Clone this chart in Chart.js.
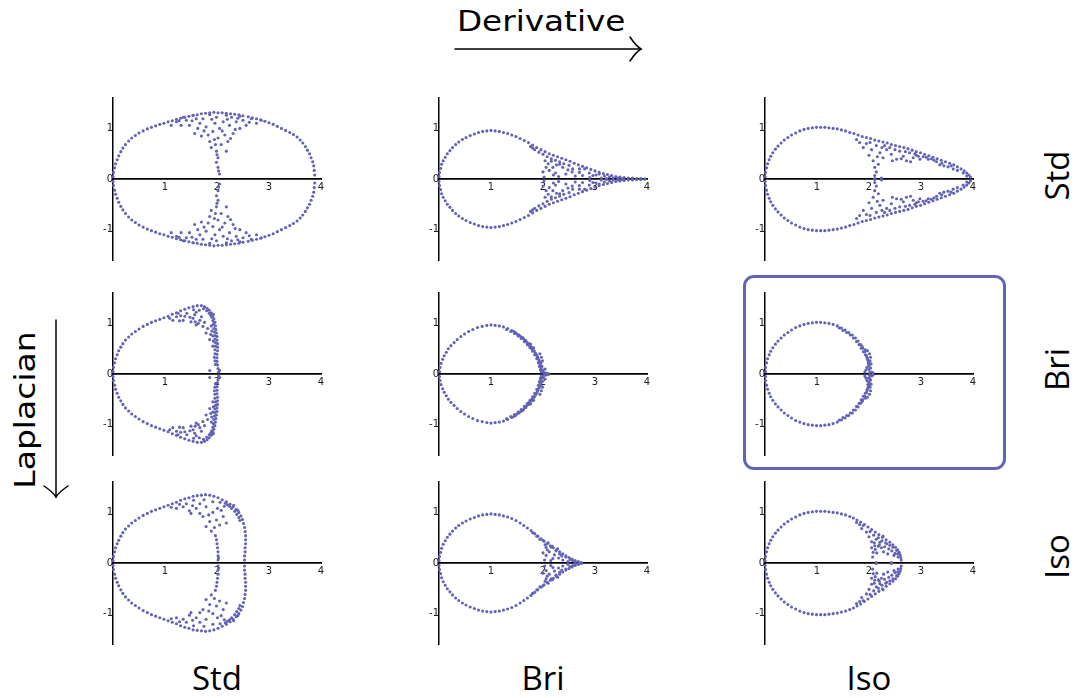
<!DOCTYPE html>
<html>
<head>
<meta charset="utf-8">
<title>Spectra of Laplacian / derivative discretisations</title>
<script src="https://cdn.jsdelivr.net/npm/chart.js@4.4.1/dist/chart.umd.min.js"></script>
<style>
  html, body { margin: 0; padding: 0; background: #fff; }
  #fig { position: relative; width: 1079px; height: 698px; overflow: hidden; background: #fff; }
  .panel { position: absolute; width: 232px; height: 174px; }
  .lbl { position: absolute; white-space: nowrap; line-height: 1; color: #000; transform-origin: 50% 50%; }
  .head { font-family: "DejaVu Sans", sans-serif; font-size: 28px; }
  .scheme { font-family: "Open Sans", sans-serif; font-size: 33px; }
  #frame { position: absolute; box-sizing: border-box; left: 743px; top: 275px; width: 263px; height: 195px;
           border: 3px solid #6464b6; border-radius: 11px; }
  svg { position: absolute; left: 0; top: 0; }
</style>
</head>
<body>
<div id="fig">
  <svg width="1079" height="698">
    <g fill="none" stroke="#000" stroke-width="1.5" stroke-linecap="round">
      <path d="M455 49 H641"/>
      <path d="M630 37 Q636 46 641 49 Q636 52 630 61"/>
      <path d="M56 320 V497"/>
      <path d="M44 486 Q53 492 56 497 Q59 492 68 486"/>
    </g>
  </svg>
  <div id="frame"></div>
</div>
<script>
// Eigenvalues (re, im) of each discretised operator; rows = Laplacian scheme,
// columns = derivative scheme. The operators are real, so their spectra are
// closed under conjugation: only the Im >= 0 half is listed here.
const schemes = ['Std', 'Bri', 'Iso'];
const xTicks = [1, 2, 3, 4];
const yTicks = [-1, 0, 1];

const specStdStd = [
  [0.00,0.05],[0.01,0.13],[0.03,0.22],[0.05,0.30],[0.08,0.38],[0.11,0.46],[0.15,0.54],[0.19,0.61],[0.24,0.68],[0.30,0.75],
  [0.36,0.81],[0.43,0.86],[0.50,0.91],[0.58,0.95],[0.66,0.99],[0.74,1.02],[0.82,1.05],[0.90,1.08],[0.98,1.10],[1.06,1.13],
  [1.14,1.15],[1.22,1.18],[1.30,1.20],[1.38,1.22],[1.46,1.24],[1.54,1.26],[1.62,1.27],[1.70,1.29],[1.78,1.30],[1.86,1.31],
  [1.94,1.32],[2.02,1.31],[2.10,1.31],[2.18,1.30],[2.26,1.29],[2.34,1.28],[2.42,1.27],[2.50,1.25],[2.60,1.23],[2.68,1.21],
  [2.76,1.19],[2.84,1.17],[2.92,1.14],[3.00,1.11],[3.08,1.08],[3.16,1.04],[3.24,1.00],[3.32,0.96],[3.40,0.92],[3.47,0.88],
  [3.54,0.83],[3.60,0.77],[3.65,0.71],[3.70,0.64],[3.74,0.57],[3.78,0.50],[3.81,0.42],[3.84,0.34],[3.86,0.26],[3.87,0.17],
  [3.88,0.08],
  [1.12,1.06],[1.22,1.13],[1.31,1.06],[1.41,1.16],[1.47,1.06],[1.57,0.90],[1.63,1.00],[1.67,1.10],[1.73,1.19],[1.79,1.03],
  [1.83,0.87],[1.86,0.74],[1.89,0.62],[1.92,0.94],[1.96,1.10],[1.99,1.22],[2.02,0.81],[2.05,1.00],[2.08,0.68],[2.12,1.13],
  [2.15,0.87],[2.18,0.55],[2.21,0.74],[2.24,1.06],[2.28,1.22],[2.31,0.90],[2.37,1.13],[2.44,1.00],[2.50,1.16],[2.56,1.06],
  [2.66,1.19],[2.76,1.10],[2.85,1.16],[2.02,0.42],[1.99,0.33],[2.02,0.23],[2.05,0.10],[1.99,0.55],[1.35,1.22],[1.54,1.26],
  [1.86,1.27],[2.18,1.26],[2.44,1.24],[1.52,1.15],[1.95,0.78],[2.10,0.95],[1.75,0.95],[2.35,0.98],[1.27,1.15],[2.62,1.12],
  [1.60,1.19],[1.90,1.18],[2.20,1.18],[2.40,1.20],[1.70,0.85],[2.26,0.80],[1.97,0.68],[2.00,0.48],[2.03,0.16]
];

const specStdBri = [
  [0.00,0.05],[0.01,0.13],[0.03,0.21],[0.05,0.29],[0.08,0.36],[0.12,0.43],[0.16,0.50],[0.21,0.56],[0.26,0.62],[0.32,0.68],
  [0.38,0.73],[0.45,0.78],[0.52,0.82],[0.60,0.86],[0.68,0.89],[0.76,0.92],[0.84,0.94],[0.92,0.95],[1.00,0.96],[1.08,0.95],
  [1.16,0.94],[1.24,0.92],[1.32,0.90],[1.40,0.87],[1.48,0.84],[1.56,0.80],[1.64,0.76],[1.72,0.72],[1.80,0.67],[1.88,0.62],
  [1.96,0.58],[2.04,0.54],[2.12,0.50],[2.20,0.47],[2.28,0.44],[2.36,0.41],[2.44,0.38],[2.52,0.35],[2.60,0.31],[2.68,0.28],
  [2.76,0.25],[2.84,0.22],[2.92,0.19],[3.00,0.16],[3.08,0.13],[3.16,0.11],[3.24,0.09],[3.32,0.07],[3.40,0.05],[3.48,0.04],
  [3.56,0.03],[3.64,0.02],[3.72,0.02],[3.80,0.01],[3.88,0.01],[3.96,0.00],
  [1.76,0.64],[1.84,0.58],[1.92,0.53],[2.00,0.49],[2.08,0.44],[2.16,0.40],[2.24,0.37],[2.32,0.34],[1.80,0.61],
  [2.06,0.23],[2.12,0.17],[2.19,0.23],[2.32,0.29],[2.38,0.23],[2.44,0.10],[2.57,0.20],[2.70,0.13],[2.80,0.20],[2.89,0.12],
  [2.96,0.07],[3.08,0.10],[3.18,0.06],[3.28,0.04],[3.12,0.02],[2.24,0.12],[2.30,0.05],[2.50,0.27],[2.56,0.14],[2.62,0.06],
  [2.76,0.07],[2.04,0.36],[2.10,0.30],[2.16,0.35],[2.26,0.28],[2.40,0.30],[2.48,0.18],[2.70,0.20],[2.90,0.03],[3.02,0.08],
  [3.35,0.02],[3.22,0.01],[2.20,0.08],[2.00,0.14],[2.02,0.04],[3.44,0.02],[3.52,0.01]
];

const specStdIso = [
  [0.00,0.05],[0.01,0.13],[0.03,0.22],[0.05,0.30],[0.08,0.38],[0.11,0.45],[0.15,0.52],[0.20,0.59],[0.25,0.65],[0.31,0.71],
  [0.37,0.77],[0.44,0.82],[0.51,0.87],[0.59,0.91],[0.67,0.95],[0.75,0.98],[0.83,1.00],[0.91,1.01],[0.99,1.02],[1.07,1.02],
  [1.15,1.02],[1.23,1.01],[1.31,1.00],[1.39,0.99],[1.47,0.97],[1.55,0.95],[1.63,0.92],[1.71,0.90],[1.79,0.87],[1.87,0.84],
  [1.95,0.82],[2.03,0.80],[2.11,0.77],[2.19,0.75],[2.27,0.73],[2.35,0.71],[2.43,0.68],[2.51,0.66],[2.59,0.64],[2.67,0.62],
  [2.75,0.60],[2.83,0.57],[2.91,0.54],[2.99,0.52],[3.07,0.49],[3.15,0.46],[3.23,0.43],[3.31,0.40],[3.39,0.37],[3.47,0.34],
  [3.55,0.31],[3.63,0.28],[3.70,0.24],[3.77,0.20],[3.83,0.16],[3.88,0.12],[3.92,0.08],[3.95,0.04],
  [1.76,0.78],[1.82,0.72],[1.89,0.62],[1.95,0.70],[2.05,0.58],[2.14,0.66],[2.21,0.52],[2.08,0.36],[2.11,0.23],[2.18,0.29],
  [2.27,0.42],[2.34,0.58],[2.43,0.49],[2.53,0.39],[2.59,0.55],[2.66,0.45],[2.72,0.36],[2.78,0.52],[2.85,0.42],[2.91,0.47],
  [2.98,0.39],[3.04,0.44],[3.14,0.39],[3.20,0.40],[3.30,0.34],[3.36,0.28],[3.44,0.26],[3.52,0.24],[3.62,0.20],[3.70,0.17],
  [3.81,0.12],[3.88,0.06],[2.11,0.07],[2.11,0.01],[2.24,0.02],[2.14,0.14],[2.00,0.47],[2.25,0.62],[2.40,0.62],[2.50,0.58],
  [2.70,0.54],[2.88,0.50],[3.10,0.43],[2.02,0.72],[2.30,0.66],[2.62,0.40],[2.80,0.34],[2.95,0.45],[3.40,0.31],[3.58,0.26],
  [2.16,0.44],[2.45,0.36],[3.25,0.37]
];

const specBriStd = [
  [0.00,0.05],[0.01,0.13],[0.03,0.22],[0.05,0.30],[0.08,0.38],[0.11,0.46],[0.15,0.53],[0.19,0.60],[0.24,0.67],[0.30,0.73],
  [0.36,0.79],[0.43,0.84],[0.50,0.89],[0.58,0.94],[0.66,0.98],[0.74,1.02],[0.82,1.05],[0.90,1.08],[0.98,1.11],[1.06,1.14],
  [1.14,1.18],[1.22,1.21],[1.30,1.25],[1.38,1.28],[1.46,1.31],[1.54,1.33],[1.62,1.35],[1.70,1.35],[1.76,1.33],[1.81,1.30],
  [1.85,1.26],[1.89,1.21],[1.92,1.15],[1.94,1.09],[1.96,1.02],[1.97,0.95],[1.98,0.88],[1.99,0.81],[2.00,0.74],[2.00,0.67],
  [2.01,0.60],[2.01,0.53],[2.01,0.46],[2.00,0.39],[2.00,0.32],[2.00,0.25],[2.01,0.18],[2.02,0.11],[2.03,0.04],
  [1.93,1.18],[1.90,1.12],[1.92,1.05],[1.93,0.98],[1.94,0.90],[1.95,0.83],[1.96,0.76],[1.96,0.69],[1.97,0.62],[1.97,0.55],
  [1.96,0.48],[1.96,0.40],[1.95,0.33],[1.96,0.26],[1.97,0.19],[1.88,1.16],[1.85,1.20],[1.80,1.25],[1.74,1.29],[1.89,0.95],
  [1.90,0.85],[1.92,0.75],[1.93,0.65],
  [1.09,1.10],[1.15,1.06],[1.22,1.13],[1.28,1.05],[1.35,1.06],[1.30,1.15],[1.42,1.20],[1.48,1.12],[1.54,1.10],[1.58,1.03],
  [1.60,0.97],[1.64,1.00],[1.67,1.06],[1.70,1.13],[1.73,0.94],[1.76,1.02],[1.79,0.81],[1.82,0.90],[1.86,0.68],[1.88,0.78],
  [1.92,0.55],[1.38,1.14],[1.25,1.20],[1.60,1.22],[1.66,1.26],[1.55,1.27],[1.86,0.07],[2.05,0.07],[1.57,1.17],[1.50,1.03]
];

const specBriBri = [
  [0.01,0.05],[0.02,0.13],[0.04,0.21],[0.07,0.29],[0.10,0.36],[0.14,0.43],[0.18,0.50],[0.23,0.56],[0.29,0.62],[0.35,0.68],
  [0.42,0.74],[0.49,0.79],[0.57,0.84],[0.65,0.88],[0.74,0.92],[0.83,0.94],[0.92,0.96],[1.00,0.97],[1.08,0.96],[1.16,0.95],
  [1.24,0.93],[1.32,0.90],[1.40,0.86],[1.47,0.82],[1.54,0.77],[1.61,0.72],[1.67,0.66],[1.73,0.60],[1.78,0.53],[1.83,0.46],
  [1.87,0.39],[1.90,0.32],[1.93,0.25],[1.95,0.18],[1.96,0.11],[1.97,0.04],
  [1.30,0.88],[1.38,0.84],[1.45,0.80],[1.52,0.75],[1.58,0.70],[1.64,0.64],[1.70,0.58],[1.75,0.52],[1.80,0.45],[1.84,0.38],
  [1.88,0.30],[1.91,0.22],[1.93,0.15],[1.95,0.08],[1.50,0.79],[1.57,0.74],[1.63,0.69],[1.69,0.62],[1.74,0.56],[1.79,0.49],
  [1.85,0.42],[1.89,0.35],[1.92,0.28],[1.96,0.22],[1.98,0.15],[2.00,0.08],[2.02,0.03],[2.06,0.02],[2.10,0.01],[1.99,0.26],
  [1.97,0.33],[1.94,0.40],[1.98,0.05],[2.04,0.10],[1.76,0.59],[1.82,0.52],[1.44,0.84]
];

const specBriIso = [
  [0.01,0.05],[0.01,0.13],[0.03,0.22],[0.05,0.30],[0.08,0.38],[0.11,0.45],[0.15,0.52],[0.20,0.59],[0.25,0.65],[0.31,0.71],
  [0.37,0.77],[0.44,0.82],[0.51,0.87],[0.59,0.92],[0.67,0.95],[0.75,0.98],[0.83,1.00],[0.91,1.01],[0.99,1.02],[1.07,1.02],
  [1.15,1.01],[1.23,1.00],[1.31,0.98],[1.39,0.95],[1.47,0.91],[1.54,0.87],[1.61,0.82],[1.68,0.77],[1.74,0.71],[1.79,0.65],
  [1.84,0.58],[1.88,0.51],[1.92,0.44],[1.95,0.37],[1.97,0.30],[1.99,0.23],[2.00,0.16],[2.00,0.09],[2.01,0.03],
  [1.43,0.91],[1.50,0.86],[1.57,0.82],[1.64,0.77],[1.70,0.71],[1.76,0.64],[1.81,0.58],[1.85,0.51],[1.89,0.44],[1.93,0.38],
  [1.96,0.33],[1.98,0.27],[2.02,0.26],[2.04,0.20],[1.99,0.20],[1.96,0.13],[1.94,0.08],[1.92,0.04],[2.05,0.04],[2.08,0.02],
  [2.03,0.33],[2.01,0.40],[1.97,0.46],[2.03,0.12],[1.87,0.54],[1.93,0.48]
];

const specIsoStd = [
  [0.00,0.05],[0.01,0.13],[0.03,0.22],[0.05,0.30],[0.08,0.38],[0.11,0.45],[0.15,0.53],[0.19,0.60],[0.24,0.67],[0.30,0.73],
  [0.36,0.79],[0.43,0.84],[0.50,0.89],[0.58,0.94],[0.66,0.98],[0.74,1.02],[0.82,1.05],[0.90,1.08],[0.98,1.11],[1.06,1.14],
  [1.14,1.17],[1.22,1.20],[1.30,1.24],[1.38,1.27],[1.46,1.29],[1.54,1.32],[1.62,1.33],[1.70,1.34],[1.78,1.35],[1.86,1.34],
  [1.94,1.32],[2.02,1.29],[2.10,1.25],[2.18,1.21],[2.25,1.16],[2.31,1.11],[2.37,1.06],[2.42,1.00],[2.46,0.93],[2.49,0.86],
  [2.51,0.78],[2.53,0.70],[2.54,0.62],[2.55,0.54],[2.55,0.46],[2.55,0.38],[2.54,0.30],[2.54,0.22],[2.53,0.14],[2.53,0.06],
  [2.20,1.15],[2.28,1.08],[2.34,1.02],[2.38,0.96],[2.42,0.90],[2.44,0.84],[2.40,1.04],[2.32,1.14],[2.24,1.12],[2.16,1.18],
  [2.02,0.06],[2.02,0.14],[2.02,0.22],[2.01,0.30],[2.00,0.38],[1.99,0.46],[1.97,0.54],[2.03,0.10],
  [1.79,0.72],[1.89,0.63],[1.99,0.85],[2.12,0.92],[2.18,0.79],[1.67,0.98],[1.60,1.08],[1.35,1.11],[1.22,1.08],[1.92,1.00],
  [2.01,1.08],[2.08,1.04],[1.86,0.82],[1.73,0.92],[1.47,1.03],[1.41,1.17],[1.67,1.17],[1.79,1.11],[1.92,1.21],[1.28,1.16],
  [1.53,1.13],[1.84,0.95],[2.05,0.75],[1.95,0.70],[2.14,1.12],[1.12,1.10],[1.75,1.25],[1.55,1.24],[2.06,1.20],[1.50,0.98]
];

const specIsoBri = [
  [0.00,0.05],[0.01,0.13],[0.03,0.21],[0.05,0.29],[0.08,0.37],[0.12,0.44],[0.16,0.51],[0.21,0.57],[0.26,0.63],[0.32,0.69],
  [0.38,0.74],[0.45,0.79],[0.52,0.83],[0.60,0.87],[0.68,0.90],[0.76,0.93],[0.84,0.95],[0.92,0.96],[1.00,0.97],[1.08,0.96],
  [1.16,0.95],[1.24,0.93],[1.32,0.91],[1.40,0.88],[1.48,0.84],[1.56,0.79],[1.63,0.74],[1.70,0.69],[1.77,0.64],[1.84,0.58],
  [1.90,0.53],[1.96,0.48],[2.02,0.43],[2.08,0.38],[2.14,0.34],[2.20,0.30],[2.26,0.26],[2.32,0.22],[2.38,0.18],[2.44,0.14],
  [2.50,0.11],[2.56,0.08],[2.62,0.05],[2.68,0.03],[2.74,0.01],
  [1.80,0.60],[1.88,0.53],[1.94,0.47],[2.00,0.45],[2.06,0.31],[2.12,0.22],[2.19,0.09],[2.32,0.18],[2.44,0.12],[2.57,0.05],
  [2.70,0.00],[2.06,0.15],[2.16,0.31],[2.25,0.24],[2.10,0.40],[2.04,0.36],[2.22,0.16],[2.30,0.10],[2.38,0.06],[2.48,0.03],
  [2.15,0.05],[2.03,0.06],[2.08,0.26],[2.28,0.28],[2.36,0.14],[2.52,0.07],[2.62,0.02],[2.00,0.20],[2.18,0.33]
];

const specIsoIso = [
  [0.00,0.05],[0.01,0.13],[0.03,0.22],[0.05,0.30],[0.08,0.38],[0.11,0.45],[0.15,0.52],[0.20,0.59],[0.25,0.65],[0.31,0.71],
  [0.37,0.77],[0.44,0.82],[0.51,0.87],[0.59,0.91],[0.67,0.95],[0.75,0.98],[0.83,1.00],[0.91,1.01],[0.99,1.02],[1.07,1.02],
  [1.15,1.02],[1.23,1.01],[1.31,1.00],[1.39,0.99],[1.47,0.97],[1.55,0.95],[1.63,0.92],[1.70,0.89],[1.77,0.85],[1.84,0.81],
  [1.91,0.76],[1.98,0.71],[2.05,0.66],[2.12,0.61],[2.19,0.56],[2.26,0.51],[2.33,0.46],[2.40,0.41],[2.46,0.36],[2.51,0.31],
  [2.55,0.26],[2.58,0.21],[2.60,0.16],[2.61,0.11],[2.62,0.06],
  [1.95,0.61],[1.89,0.74],[2.08,0.21],[2.11,0.34],[2.21,0.41],[2.34,0.38],[2.27,0.53],[2.14,0.47],[2.46,0.31],[2.53,0.25],
  [2.56,0.12],[2.14,0.01],[2.43,0.01],[2.02,0.62],[2.09,0.55],[2.18,0.50],[2.25,0.44],[2.32,0.40],[2.40,0.35],[2.05,0.30],
  [2.12,0.27],[2.18,0.33],[2.24,0.30],[2.30,0.32],[2.38,0.28],[2.44,0.24],[2.50,0.19],[2.05,0.42],[1.82,0.76],[1.86,0.68],
  [2.00,0.52],[2.10,0.40],[2.20,0.36],[2.28,0.22],[2.36,0.18],[2.48,0.15],[1.76,0.80],[2.15,0.20],[2.07,0.12],[2.55,0.18]
];

// rows: Laplacian scheme, columns: derivative scheme
const spectra = [
  [specStdStd, specStdBri, specStdIso],
  [specBriStd, specBriBri, specBriIso],
  [specIsoStd, specIsoBri, specIsoIso]
];

// ---- layout ----
const colLeft = [97, 423, 749];
const rowTop = [92, 287, 476];
const DOT = 'rgb(98, 98, 182)';
const fig = document.getElementById('fig');

Chart.defaults.font.family = '"DejaVu Sans", sans-serif';

function drawPanel(pts, left, top) {
  const canvas = document.createElement('canvas');
  canvas.width = 232; canvas.height = 174;
  canvas.className = 'panel';
  canvas.style.left = left + 'px';
  canvas.style.top = top + 'px';
  fig.appendChild(canvas);

  const upper = pts.map(([re, im]) => ({ x: re, y: im }));
  const lower = pts.map(([re, im]) => ({ x: re, y: -im }));

  const tickFont = { size: 10, family: '"DejaVu Sans", sans-serif' };
  new Chart(canvas, {
    type: 'scatter',
    data: { datasets: [{
      data: upper.concat(lower),
      backgroundColor: DOT,
      borderWidth: 0,
      pointRadius: 1.55,
      pointHoverRadius: 1.55,
      clip: false
    }]},
    options: {
      responsive: false,
      animation: false,
      devicePixelRatio: 1,
      events: [],
      layout: { padding: { left: 16, right: 8, top: 4, bottom: 4 } },
      plugins: { legend: { display: false }, tooltip: { enabled: false } },
      scales: {
        x: {
          type: 'linear', min: 0, max: 4, position: { y: 0 },
          afterFit: s => { s.height = 0; },
          afterBuildTicks: s => { s.ticks = xTicks.map(v => ({ value: v })); },
          grid: { display: true, drawOnChartArea: false, drawTicks: false },
          border: { display: true, color: '#000', width: 1.7 },
          ticks: { font: tickFont, color: '#222', padding: 2, maxRotation: 0, autoSkip: false }
        },
        y: {
          type: 'linear', min: -1.6, max: 1.6, position: { x: 0 },
          afterFit: s => { s.width = 0; },
          afterBuildTicks: s => { s.ticks = yTicks.map(v => ({ value: v })); },
          grid: { display: true, drawOnChartArea: false, drawTicks: false },
          border: { display: true, color: '#000', width: 1.5 },
          ticks: { font: tickFont, color: '#222', padding: 0, autoSkip: false }
        }
      }
    }
  });
}

spectra.forEach((row, r) => row.forEach((pts, c) => drawPanel(pts, colLeft[c], rowTop[r])));

// ---- headings ----
function addLabel(text, cls, cx, cy, length, rotated) {
  const s = document.createElement('span');
  s.className = 'lbl ' + cls;
  s.textContent = text;
  fig.appendChild(s);
  const w = s.offsetWidth, h = s.offsetHeight;
  s.style.left = (cx - w / 2) + 'px';
  s.style.top = (cy - h / 2) + 'px';
  const k = length ? length / w : 1;
  s.style.transform = (rotated ? 'rotate(-90deg) ' : '') + 'scaleX(' + k + ')';
}

addLabel('Derivative', 'head', 541, 22, 168, false);
addLabel('Laplacian', 'head', 26, 410, 158, true);

const colCenter = [217, 543, 869];
const rowCenter = [175, 369, 556];
schemes.forEach((name, i) => {
  addLabel(name, 'scheme', colCenter[i], 677, 0, false);
  addLabel(name, 'scheme', 1056, rowCenter[i], 0, true);
});
</script>
</body>
</html>
